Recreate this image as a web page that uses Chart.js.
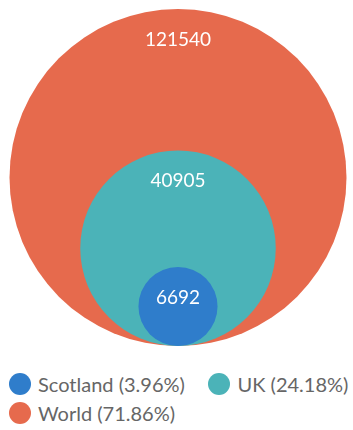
<!DOCTYPE html>
<html>
<head>
<meta charset="utf-8">
<script src="https://cdn.jsdelivr.net/npm/chart.js@4.4.1/dist/chart.umd.min.js"></script>
<style>
  body { margin: 0; background: #fff; font-family: Lato, "Open Sans", sans-serif; }
  #wrap { width: 353px; height: 430px; }
  #bubbles { display: block; }
  #legend {
    display: grid;
    grid-template-columns: 199.5px auto;
    grid-auto-rows: 29px;
    padding: 15.5px 0 0 8.5px;
  }
  .item { display: flex; align-items: center; color: #666; font-size: 20px; white-space: nowrap; }
  .dot { width: 22px; height: 22px; border-radius: 50%; margin-right: 7.5px; flex: none; }
</style>
</head>
<body>
<div id="wrap">
  <canvas id="bubbles" width="353" height="354"></canvas>
  <div id="legend"></div>
</div>
<script>
// Data
const regions = ['Scotland', 'UK', 'World'];
const counts = [6692, 40905, 121540];
const colors = ['#2F7DCB', '#4BB3B8', '#E66A4D'];

const total = counts.reduce((a, b) => a + b, 0);
const biggest = Math.max(...counts);

// radius in pixels from the y scale, so circle area ~ value
function radiusFor(chart, v) {
  const y = chart.scales.y;
  if (!y || !chart.chartArea) return 0;
  const r = y.getPixelForValue(0) - y.getPixelForValue(Math.sqrt(v));
  return isFinite(r) ? r : 0;
}

// circles are nested and all sit on the bottom line
const datasets = regions.map((name, i) => ({
  label: name,
  data: [{ x: 0, y: Math.sqrt(counts[i]) }],
  backgroundColor: colors[i],
  pointBorderWidth: 0,
  pointHoverBorderWidth: 0,
  clip: false,
  pointRadius: (ctx) => radiusFor(ctx.chart, counts[i]),
  pointHoverRadius: (ctx) => radiusFor(ctx.chart, counts[i])
}));

// value text near the top of each circle
const valueLabels = {
  id: 'valueLabels',
  afterDatasetsDraw(chart) {
    const ctx = chart.ctx;
    ctx.save();
    ctx.fillStyle = '#fff';
    ctx.font = '19px Lato';
    ctx.textAlign = 'center';
    ctx.textBaseline = 'middle';
    chart.data.datasets.forEach((ds, i) => {
      const pt = chart.getDatasetMeta(i).data[0];
      const r = radiusFor(chart, counts[i]);
      ctx.fillText(String(counts[i]), pt.x, pt.y - r + 30.5);
    });
    ctx.restore();
  }
};

const chart = new Chart(document.getElementById('bubbles'), {
  type: 'scatter',
  data: { datasets },
  options: {
    responsive: false,
    animation: false,
    events: [],
    layout: { padding: { left: 10, right: 7, top: 9, bottom: 8 } },
    scales: {
      x: { display: false, min: -1, max: 1 },
      y: { display: false, min: 0, max: 2 * Math.sqrt(biggest) }
    },
    plugins: {
      legend: { display: false },
      tooltip: { enabled: false }
    }
  },
  plugins: [valueLabels]
});

// legend below the chart
const legend = document.getElementById('legend');
regions.forEach((name, i) => {
  const pct = (counts[i] / total * 100).toFixed(2);
  const item = document.createElement('div');
  item.className = 'item';
  item.innerHTML = '<span class="dot" style="background:' + colors[i] + '"></span>' +
    name + ' (' + pct + '%)';
  legend.appendChild(item);
});
</script>
</body>
</html>
